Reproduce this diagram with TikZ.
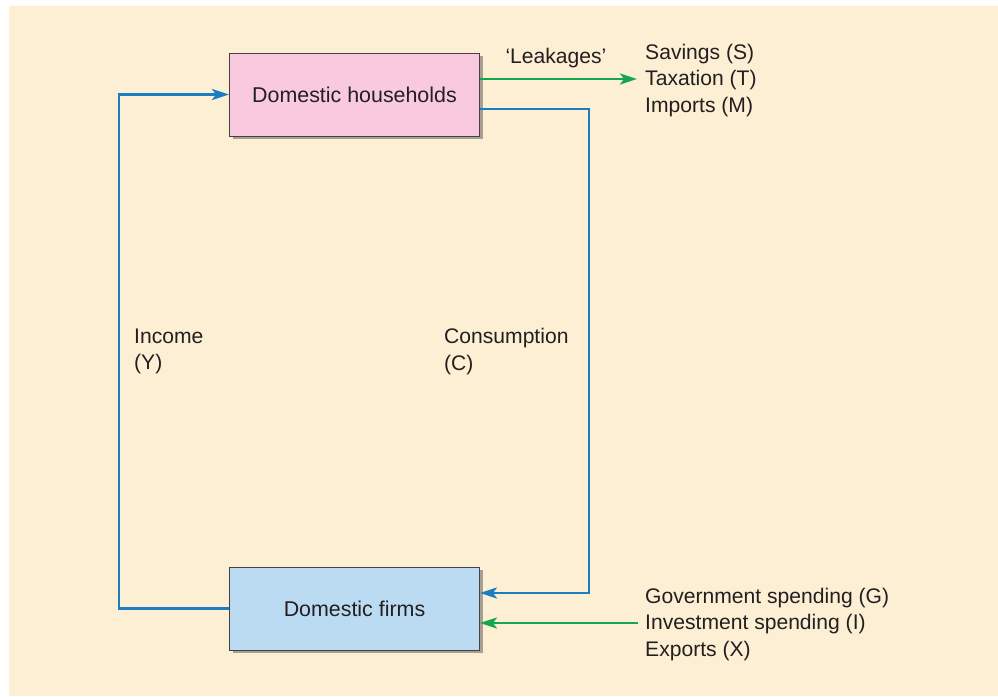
\documentclass[tikz,border=0pt]{standalone}
\usepackage{fontspec}
\setmainfont{Liberation Sans}
\usetikzlibrary{arrows.meta}
\definecolor{bgcream}{HTML}{FDEFD4}
\definecolor{hhpink}{HTML}{F8C9DF}
\definecolor{firmblue}{HTML}{BBDBF3}
\definecolor{flowblue}{HTML}{1B7EC5}
\definecolor{flowgreen}{HTML}{17A650}
\definecolor{shadowc}{HTML}{A79E94}
\definecolor{txt}{HTML}{231F20}
\tikzset{
  box/.style={draw=txt!85, line width=1pt, minimum width=250pt, minimum height=83pt, inner sep=0pt,
    font=\fontsize{21.4}{26}\selectfont, text=txt},
  lbl/.style={inner sep=0pt, align=left, anchor=west, font=\fontsize{21.1}{26.2}\selectfont, text=txt},
  bflow/.style={draw=flowblue, line width=2.5pt, -{Stealth[length=17pt,width=11pt,inset=4pt]}},
  gflow/.style={draw=flowgreen, line width=2.5pt, -{Stealth[length=17pt,width=11pt,inset=4pt]}},
}
\begin{document}
\begin{tikzpicture}[x=1pt,y=-1pt]
\useasboundingbox (0,0) rectangle (998,696);
\fill[bgcream] (9,6) rectangle (998,696);
% shadows
\fill[shadowc] (233,56) rectangle (483,139);
\fill[shadowc] (233,570) rectangle (483,653);
\node[box, fill=hhpink] (hh) at (354.5,94.5) {Domestic households};
\node[box, fill=firmblue] (firms) at (354.5,608.5) {Domestic firms};
% labels
\node[lbl, anchor=center] (leak) at (556,58) {‘Leakages’};
\node[lbl] (out) at (645,80.5) {Savings (S)\\Taxation (T)\\Imports (M)};
\node[lbl] (inj) at (645,624.5) {Government spending (G)\\Investment spending (I)\\Exports (X)};
\node[lbl] (inc) at (134,351.5) {Income\\(Y)};
\node[lbl] (cons) at (444,351.5) {Consumption\\(C)};
% connectors
\coordinate (lc) at ([xshift=-110pt]firms.west);
\coordinate (rc) at (589,109);
\draw[bflow, line join=miter] (firms.west) -- (lc) |- (hh.west);
\draw[bflow, line join=miter] ([yshift=-14.5pt]hh.east) -- (rc) |- ([yshift=15.5pt]firms.east);
\draw[gflow] ([yshift=15.5pt]hh.east) -- ([yshift=15.5pt]hh.east -| out.west) [shorten >=8pt];
\draw[gflow, shorten <=7pt] ([yshift=-14.5pt]firms.east -| inj.west) -- ([yshift=-14.5pt]firms.east);
\end{tikzpicture}
\end{document}
